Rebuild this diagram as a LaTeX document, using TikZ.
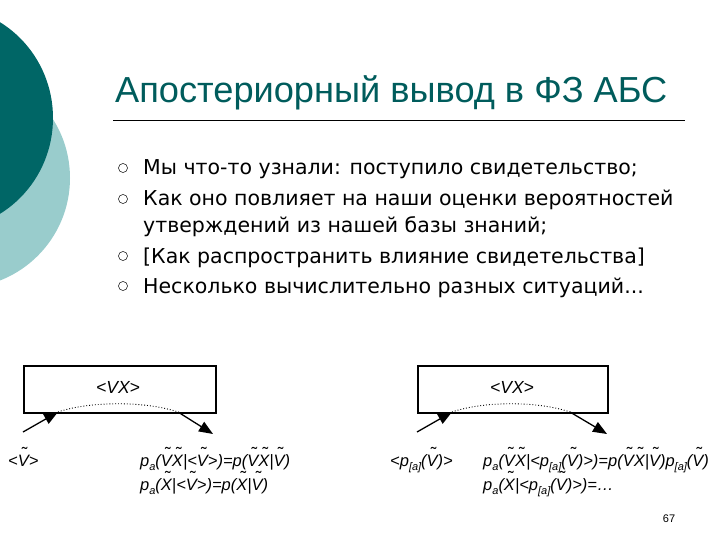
\documentclass[tikz,border=0pt]{standalone}
\usepackage{fontspec}
\setmainfont{DejaVu Sans}
\newfontfamily\titlefont{Liberation Sans}
\newfontfamily\ff{Liberation Sans}
\usetikzlibrary{arrows.meta}
\newcommand\tld[1]{\leavevmode\setbox0\hbox{\textit{#1}}\rlap{\hbox to\wd0{\hss\kern0.18em\raisebox{0.42em}{\fontsize{17}{17}\selectfont\textup{\char"02DC}}\hss}}\box0}
\newcommand\pa{\textit{p}\raisebox{-0.25em}{\fontsize{11}{11}\selectfont\textit{a}}}
\newcommand\pA{\textit{p}\raisebox{-0.25em}{\fontsize{11}{11}\selectfont\textit{[a]}}}
\definecolor{dark}{HTML}{006666}
\definecolor{light}{HTML}{99CCCC}
\tikzset{
 bul/.style={draw,circle,inner sep=0pt,minimum size=9pt,line width=0.5pt},
 btxt/.style={anchor=base west,inner sep=0pt,font=\fontsize{20.5}{20.5}\selectfont},
 fm/.style={anchor=base west,inner sep=0pt,font=\ff\itshape\fontsize{16.5}{16.5}\selectfont},
 boxst/.style={draw,line width=1.5pt,minimum width=192pt,minimum height=47pt,inner sep=0pt,anchor=north west},
 arr/.style={line width=1.3pt,-{Triangle[length=14pt,width=11pt]}},
}
\begin{document}
\begin{tikzpicture}[x=1pt,y=-1pt]
\useasboundingbox (0,0) rectangle (720,540);
\fill[light] (-40,178) circle (110);
\fill[dark] (-57,118) ellipse (110 and 112);
\node[anchor=base west,inner sep=0pt,font=\titlefont\fontsize{36.2}{36.2}\selectfont,text=dark!90!black] (title) at (115,103) {Апостериорный вывод в ФЗ АБС};
\draw[line width=0.8pt] (113,120) -- (685,120);
\foreach \y/\t [count=\i] in {175/{Мы что-то узнали: поступило свидетельство;},206/{Как оно повлияет на наши оценки вероятностей},233/{утверждений из нашей базы знаний;},263/{[Как распространить влияние свидетельства]},293/{Несколько вычислительно разных ситуаций...}}{
 \node[btxt] (t\i) at (143,\y) {\t};
}
\foreach \y/\n in {168/a,199/b,256/c,286/d}{\node[bul] (b\n) at (123,\y) {};}
% diagram 1
\node[boxst] (box1) at (23,365) {};
\node[font=\ff\itshape\fontsize{17.5}{17.5}\selectfont] (vx1) at (118,387) {<VX>};
\coordinate (l1) at (58,412); \coordinate (r1) at (178,412);
\draw[dotted,line width=0.9pt] (l1) .. controls (90,401) and (146,401) .. (r1);
\coordinate (s1) at (23,432); \coordinate (e1) at (213,434);
\draw[arr] (s1) -- (l1);
\draw[arr] (r1) -- (e1);
\node[fm] (v1) at (8,466) {<\tld{V}>};
\node[fm] (f1) at (140,466) {\pa(\tld{V}\tld{X}|<\tld{V}>)=\textit{p}(\tld{V}\tld{X}|\tld{V})};
\node[fm] (f2) at (140,490) {\pa(\tld{X}|<\tld{V}>)=\textit{p}(\tld{X}|\tld{V})};
% diagram 2
\node[boxst,minimum width=190pt] (box2) at (417,365) {};
\node[font=\ff\itshape\fontsize{17.5}{17.5}\selectfont] (vx2) at (512,387) {<VX>};
\coordinate (l2) at (452,412); \coordinate (r2) at (570,412);
\draw[dotted,line width=0.9pt] (l2) .. controls (484,401) and (538,401) .. (r2);
\coordinate (s2) at (417,432); \coordinate (e2) at (607,434);
\draw[arr] (s2) -- (l2);
\draw[arr] (r2) -- (e2);
\node[fm] (v2) at (390,466) {<\pA(\tld{V})>};
\node[fm] (f3) at (483,466) {\pa(\tld{V}\tld{X}|<\pA(\tld{V})>)=\textit{p}(\tld{V}\tld{X}|\tld{V})\pA(\tld{V})};
\node[fm] (f4) at (483,490) {\pa(\tld{X}|<\pA(\tld{V})>)=…};
\node[anchor=base,inner sep=0pt,font=\ff\fontsize{11}{11}\selectfont] (pg) at (669,522) {67};
\end{tikzpicture}
\end{document}
